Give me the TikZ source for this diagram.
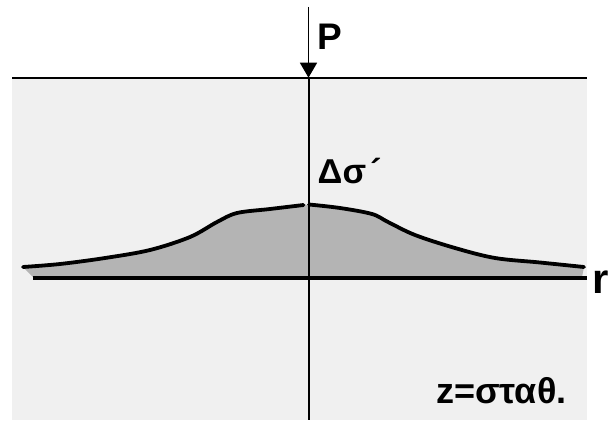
\documentclass[tikz,border=0pt]{standalone}
\usepackage{fontspec}
\setmainfont{Liberation Sans}
\usetikzlibrary{arrows.meta}
\definecolor{bgGrey}{HTML}{F0F0F0}
\definecolor{fillGrey}{HTML}{B4B4B4}
\begin{document}
\begin{tikzpicture}[x=1pt,y=-1pt,
  lbl/.style={inner sep=0pt, anchor=base west, font=\bfseries\fontsize{#1}{#1}\selectfont},
  thinline/.style={line width=2pt, black},
  curveline/.style={line width=3.8pt, black, line cap=round, line join=round}]
\useasboundingbox (0,0) rectangle (609,420);
% soil background
\fill[bgGrey] (12,78.7) rectangle (587,420);
% coordinates
\coordinate (sL) at (12,77.7);
\coordinate (sR) at (586.5,77.7);
\coordinate (ptop) at (308.5,7);
\coordinate (surf) at (308.5,77.7);
\coordinate (bot) at (308.5,420);
\coordinate (rL) at (33,278);
\coordinate (rR) at (586.5,278);
% ground surface
\draw[line width=2.4pt] (sL) -- (sR);
% stress distribution fill
\fill[fillGrey] plot[smooth, tension=0.55] coordinates {(23,267) (60,264) (105,258) (150,250) (190,237) (217,222) (237,213) (270,209) (306,205)}
  -- plot[smooth, tension=0.55] coordinates {(306,205) (340,208) (372,214) (388,222) (415,235) (455,248) (495,258) (540,262.5) (584,267)}
  -- (582,277) -- (33,277) -- cycle;
% curve
\draw[curveline] plot[smooth, tension=0.55] coordinates {(23,267) (60,264) (105,258) (150,250) (190,237) (217,222) (237,213) (270,209) (303.5,205)};
\draw[curveline] plot[smooth, tension=0.55] coordinates {(309,204.5) (340,208) (372,214) (388,222) (415,235) (455,248) (495,258) (540,262.5) (584,267)};
% r axis
\draw[line width=4pt] (rL) -- (rR);
% load arrow and axis
\draw[line width=1.6pt, -{Triangle[width=17pt,length=15pt]}] (ptop) -- (surf);
\draw[thinline] (surf) -- (bot);
% labels
\node[lbl=37] (P) at (317,49.5) {P};
\node[lbl=34.5] (ds) at (317.5,183.5) {Δσ\kern4pt´};
\node[lbl=42] (r) at (592,293.5) {r};
\node[lbl=36] (z) at (436,403.5) {z=σταθ.};
\end{tikzpicture}
\end{document}
